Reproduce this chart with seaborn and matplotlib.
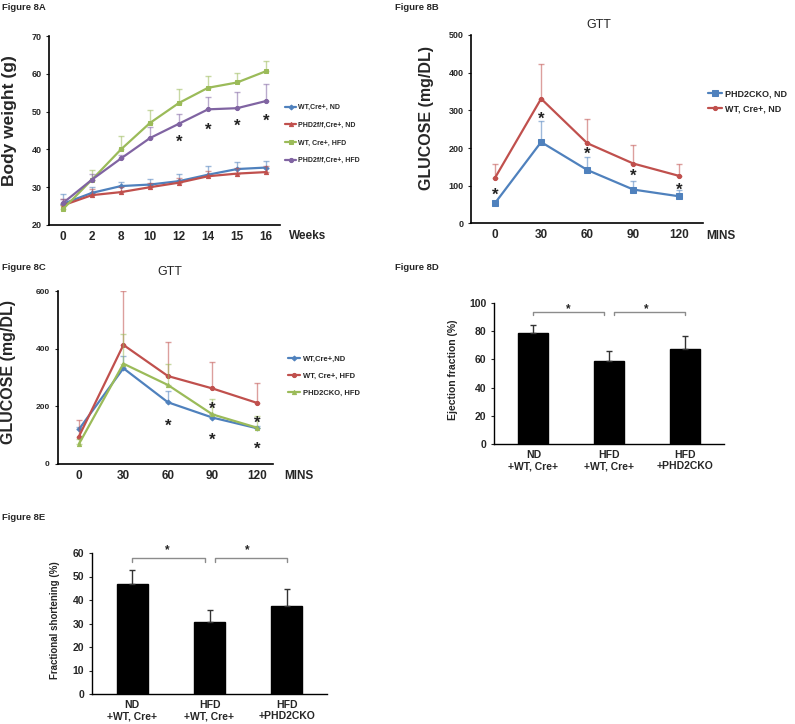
import numpy as np
import pandas as pd
import matplotlib
matplotlib.use('Agg')
import matplotlib.pyplot as plt
import seaborn as sns

# Figure 8A - body weight
WEEKS = ['0', '2', '8', '10', '12', '14', '15', '16']
BW_WT_ND = [25.6, 28.5, 30.3, 30.7, 31.6, 33.3, 34.8, 35.2]
BW_WT_ND_ERR = [2.5, 1.5, 1.2, 1.4, 2.0, 2.4, 1.9, 1.7]
BW_PHD_ND = [25.2, 27.9, 28.7, 30.0, 31.2, 32.9, 33.6, 34.0]
BW_PHD_ND_ERR = [1.8, 1.5, 1.3, 1.2, 1.2, 1.5, 1.5, 1.5]
BW_WT_HFD = [24.2, 32.0, 40.0, 47.0, 52.3, 56.3, 57.7, 60.7]
BW_WT_HFD_ERR = [1.0, 2.6, 3.5, 3.5, 3.6, 3.0, 2.6, 2.6]
BW_PHD_HFD = [25.8, 32.0, 37.6, 43.0, 46.8, 50.6, 50.9, 52.8]
BW_PHD_HFD_ERR = [1.0, 1.5, 1.0, 3.0, 2.5, 3.2, 4.3, 4.5]
BW_STAR_IDX = [4, 5, 6, 7]
BW_STAR_Y = [43.2, 46.2, 47.4, 48.7]

# Figure 8B - GTT on normal diet
MINS = ['0', '30', '60', '90', '120']
GTT_B_PHD = [54, 216, 142, 90, 72]
GTT_B_PHD_ERR = [7, 55, 34, 24, 18]
GTT_B_WT = [121, 331, 213, 159, 126]
GTT_B_WT_ERR = [36, 92, 64, 48, 33]
GTT_B_STAR_Y = [88, 289, 195, 137, 100]

# Figure 8C - GTT on high fat diet
GTT_C_WT_ND = [120, 332, 214, 161, 124]
GTT_C_WT_ND_ERR = [10, 44, 40, 12, 8]
GTT_C_WT_HFD = [95, 413, 305, 262, 212]
GTT_C_WT_HFD_ERR = [59, 187, 117, 93, 69]
GTT_C_PHD_HFD = [69, 348, 274, 172, 126]
GTT_C_PHD_HFD_ERR = [18, 102, 74, 52, 42]
GTT_C_STAR_X = [2, 3, 3, 4, 4]
GTT_C_STAR_Y = [147, 205, 98, 158, 66]

# Figure 8D / 8E - echo
GROUPS = ['ND\n+WT, Cre+', 'HFD\n+WT, Cre+', 'HFD\n+PHD2CKO']
EF = [78.7, 58.6, 67.4]
EF_ERR = [6.0, 7.6, 9.4]
FS = [46.6, 30.6, 37.6]
FS_ERR = [6.1, 5.2, 7.1]

BLUE = '#4F81BD'
RED = '#C0504D'
GREEN = '#9BBB59'
PURPLE = '#8064A2'

sns.set_style('ticks')
plt.rcParams['font.family'] = ['Liberation Sans', 'DejaVu Sans']
plt.rcParams['font.weight'] = 'bold'

fig = plt.figure(figsize=(7.95, 7.24), dpi=100)
W, H = 795.0, 724.0


def px_axes(left, top, right, bottom):
    return fig.add_axes([left / W, 1 - bottom / H, (right - left) / W, (bottom - top) / H])


def ftext(x, y, s, **kw):
    fig.text(x / W, 1 - y / H, s, **kw)


def style_axes(ax, lw=1.2):
    sns.despine(ax=ax)
    for sp in ['left', 'bottom']:
        ax.spines[sp].set_linewidth(lw)
        ax.spines[sp].set_color('black')
    ax.tick_params(axis='x', length=0, pad=4)
    ax.tick_params(axis='y', length=2.5, width=0.8, direction='out', pad=3)
    ax.set_xlabel('')
    ax.set_ylabel('')


def draw_series(ax, vals, errs, color, marker, ms, label):
    pos = np.arange(len(vals))
    ax.errorbar(pos, vals, yerr=[np.zeros(len(errs)), errs], fmt='none',
                ecolor=color, alpha=0.55, elinewidth=1.0, capsize=2, capthick=1.0)
    sns.lineplot(x=pos, y=vals, ax=ax, color=color, marker=marker, markersize=ms,
                 markeredgecolor=color, linewidth=1.6, label=label)


def star(ax, x, y, size=12):
    ax.annotate('*', (x, y), xytext=(0, -0.55 * size), textcoords='offset points',
                ha='center', va='baseline', fontsize=size, fontweight='bold',
                color='#222222', annotation_clip=False)


def legend_at(ax, x, y, fontsize, spacing):
    ax.legend(loc='upper left', bbox_to_anchor=(x / W, 1 - y / H),
              bbox_transform=fig.transFigure, frameon=False,
              borderpad=0, borderaxespad=0, handlelength=1.6, handletextpad=0.3,
              labelspacing=spacing, prop={'size': fontsize, 'weight': 'bold'})


# ---- Figure 8A
ax = px_axes(49, 36, 280, 225)
draw_series(ax, BW_WT_ND, BW_WT_ND_ERR, BLUE, 'D', 2.5, 'WT,Cre+, ND')
draw_series(ax, BW_PHD_ND, BW_PHD_ND_ERR, RED, '^', 3, 'PHD2f/f,Cre+, ND')
draw_series(ax, BW_WT_HFD, BW_WT_HFD_ERR, GREEN, 's', 3.5, 'WT, Cre+, HFD')
draw_series(ax, BW_PHD_HFD, BW_PHD_HFD_ERR, PURPLE, 'o', 3, 'PHD2f/f,Cre+, HFD')
for i, y in zip(BW_STAR_IDX, BW_STAR_Y):
    star(ax, i, y)
ax.set_xlim(-0.48, 7.48)
ax.set_ylim(20, 70)
ax.set_xticks(range(len(WEEKS)))
ax.set_xticklabels(WEEKS, fontsize=8.5, fontweight='bold')
ax.set_yticks(range(20, 71, 10))
ax.tick_params(axis='y', labelsize=6.5)
style_axes(ax)
legend_at(ax, 285, 104, 5, 1.55)
ftext(289, 236, 'Weeks', fontsize=8.5, fontweight='bold', va='center')
ftext(10, 121, 'Body weight (g)', fontsize=12.5, fontweight='bold', rotation=90,
      ha='center', va='center')
ftext(2, 7, 'Figure 8A', fontsize=6.8, fontweight='bold', va='center')

# ---- Figure 8B
ax = px_axes(471, 35, 703, 223.5)
draw_series(ax, GTT_B_PHD, GTT_B_PHD_ERR, BLUE, 's', 4.5, 'PHD2CKO, ND')
draw_series(ax, GTT_B_WT, GTT_B_WT_ERR, RED, 'o', 3, 'WT, Cre+, ND')
for i, y in enumerate(GTT_B_STAR_Y):
    star(ax, i, y)
ax.set_xlim(-0.52, 4.51)
ax.set_ylim(0, 500)
ax.set_xticks(range(len(MINS)))
ax.set_xticklabels(MINS, fontsize=8.5, fontweight='bold')
ax.set_yticks(range(0, 501, 100))
ax.tick_params(axis='y', labelsize=6.5)
style_axes(ax)
legend_at(ax, 708, 89.5, 6.5, 0.65)
ftext(706, 236, 'MINS', fontsize=8.5, fontweight='bold', va='center')
ftext(599, 25, 'GTT', fontsize=9, fontweight='normal', ha='center', va='center')
ftext(426, 118, 'GLUCOSE (mg/DL)', fontsize=11.5, fontweight='bold', rotation=90,
      ha='center', va='center')
ftext(395, 7, 'Figure 8B', fontsize=6.8, fontweight='bold', va='center')

# ---- Figure 8C
ax = px_axes(57.5, 291, 273, 464)
draw_series(ax, GTT_C_WT_ND, GTT_C_WT_ND_ERR, BLUE, 'D', 2.5, 'WT,Cre+,ND')
draw_series(ax, GTT_C_WT_HFD, GTT_C_WT_HFD_ERR, RED, 'o', 3, 'WT, Cre+, HFD')
draw_series(ax, GTT_C_PHD_HFD, GTT_C_PHD_HFD_ERR, GREEN, '^', 3, 'PHD2CKO, HFD')
for i, y in zip(GTT_C_STAR_X, GTT_C_STAR_Y):
    star(ax, i, y)
ax.set_xlim(-0.48, 4.36)
ax.set_ylim(0, 600)
ax.set_xticks(range(len(MINS)))
ax.set_xticklabels(MINS, fontsize=8.5, fontweight='bold')
ax.set_yticks(range(0, 601, 200))
ax.tick_params(axis='y', labelsize=6)
style_axes(ax)
legend_at(ax, 288, 355, 5.5, 1.3)
ftext(284, 476, 'MINS', fontsize=8.5, fontweight='bold', va='center')
ftext(170, 272, 'GTT', fontsize=9, fontweight='normal', ha='center', va='center')
ftext(9, 372, 'GLUCOSE (mg/DL)', fontsize=11.5, fontweight='bold', rotation=90,
      ha='center', va='center')
ftext(2, 267, 'Figure 8C', fontsize=6.8, fontweight='bold', va='center')


# ---- bar panels
def bar_panel(ax, vals, errs, ymax, step, br_y, br_drop, star_y):
    df = pd.DataFrame({'group': GROUPS, 'value': vals})
    sns.barplot(data=df, x='group', y='value', ax=ax, color='black', width=0.4,
                errorbar=None, saturation=1, edgecolor='black')
    ax.errorbar(range(len(vals)), vals, yerr=[np.zeros(len(errs)), errs], fmt='none',
                ecolor='#333333', elinewidth=1.0, capsize=2.5, capthick=1.0)
    for x0, x1, sx in [(0, 0.94, 0.46), (1.07, 2.0, 1.49)]:
        ax.plot([x0, x0, x1, x1], [br_drop, br_y, br_y, br_drop], color='#8c8c8c',
                lw=1.0, clip_on=False)
        star(ax, sx, star_y, size=8.5)
    ax.set_xlim(-0.52, 2.52)
    ax.set_ylim(0, ymax)
    ax.set_yticks(np.arange(0, ymax + 1, step))
    style_axes(ax, lw=1.0)
    ax.tick_params(axis='x', labelsize=7.5, pad=4)
    ax.tick_params(axis='y', labelsize=7.5)
    for lab in ax.get_xticklabels():
        lab.set_fontweight('bold')
        lab.set_linespacing(1.2)


ax = px_axes(494, 303, 724, 444)
bar_panel(ax, EF, EF_ERR, 100, 20, 93.6, 91.3, 98)
ftext(453, 370, 'Ejection fraction (%)', fontsize=7.5, fontweight='bold', rotation=90,
      ha='center', va='center')
ftext(395, 267, 'Figure 8D', fontsize=6.8, fontweight='bold', va='center')

ax = px_axes(92, 553, 327, 694)
bar_panel(ax, FS, FS_ERR, 60, 10, 57.8, 56.3, 62.5)
ftext(55, 620, 'Fractional shortening (%)', fontsize=7, fontweight='bold', rotation=90,
      ha='center', va='center')
ftext(2, 517, 'Figure 8E', fontsize=6.8, fontweight='bold', va='center')

fig.savefig('out.png', dpi=100)
